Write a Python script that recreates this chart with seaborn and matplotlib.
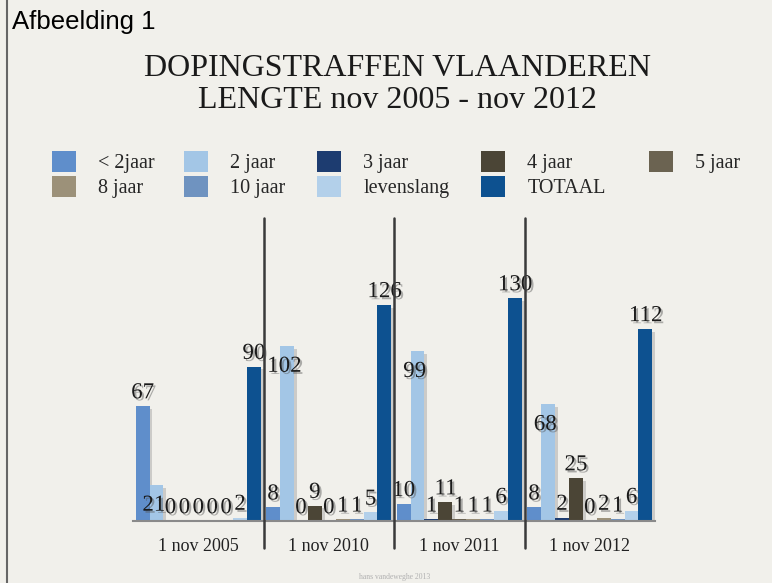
import numpy as np
import pandas as pd
import matplotlib
matplotlib.use("Agg")
import matplotlib.pyplot as plt
import matplotlib.patheffects as pe
from matplotlib.lines import Line2D
import seaborn as sns

# ---- data ----
dates = ["1 nov 2005", "1 nov 2010", "1 nov 2011", "1 nov 2012"]
durations = ["< 2jaar", "2 jaar", "3 jaar", "4 jaar", "5 jaar",
             "8 jaar", "10 jaar", "levenslang", "TOTAAL"]
v_lt2 = [67, 8, 10, 8]
v_2 = [21, 102, 99, 68]
v_3 = [0, 0, 1, 2]
v_4 = [0, 9, 11, 25]
v_5 = [0, 0, 1, 0]
v_8 = [0, 1, 1, 2]
v_10 = [0, 1, 1, 1]
v_lev = [2, 5, 6, 6]
v_tot = [90, 126, 130, 112]
series = [v_lt2, v_2, v_3, v_4, v_5, v_8, v_10, v_lev, v_tot]

colors = ["#5f8ecb", "#a3c6e6", "#1d3c70", "#4b4536", "#6b6351",
          "#9c9179", "#6f93c0", "#b3d0ea", "#0d5190"]
bg = "#f1f0eb"

rows = []
for dur, vals in zip(durations, series):
    for d, v in zip(dates, vals):
        rows.append({"datum": d, "duur": dur, "aantal": v})
df = pd.DataFrame(rows)

sns.set_style("white")
plt.rcParams["font.family"] = ["Liberation Serif", "DejaVu Serif"]

W, H = 772, 583
fig = plt.figure(figsize=(W / 100, H / 100), dpi=100, facecolor=bg)

def fx(px):
    return px / W

def fy(py):
    return 1 - py / H

ax_left, ax_right, ax_top, ax_bot = 133, 655, 218, 521
ax = fig.add_axes([fx(ax_left), fy(ax_bot), fx(ax_right - ax_left), (ax_bot - ax_top) / H])
ax.set_facecolor(bg)

shadow = [pe.SimplePatchShadow(offset=(2, -2), shadow_rgbFace="#888888", alpha=0.35), pe.Normal()]
sns.barplot(data=df, x="datum", y="aantal", hue="duur", hue_order=durations,
            order=dates, palette=colors, width=0.96, gap=0.0, ax=ax,
            saturation=1, legend=True)

for p in ax.patches:
    p.set_path_effects(shadow)
    p.set_edgecolor("none")

ax.set_xlim(-0.5, 3.5)
ax.set_ylim(0, (ax_bot - ax_top) / 1.715)
ax.set_xlabel("")
ax.set_ylabel("")
ax.set_yticks([])
ax.tick_params(axis="x", length=0, labelsize=13, pad=12, colors="#222222")
for s in ["left", "right", "top"]:
    ax.spines[s].set_visible(False)
ax.spines["bottom"].set_color("#8a8a8a")
ax.spines["bottom"].set_linewidth(1.5)

# value labels
txt_shadow = [pe.SimplePatchShadow(offset=(1.5, -1.5), shadow_rgbFace="#555555", alpha=0.45), pe.Normal()]
for dur, cont in zip(durations, ax.containers):
    for bar in cont:
        h = bar.get_height()
        xc = bar.get_x() + bar.get_width() / 2
        if dur == "2 jaar":
            ax.annotate(f"{int(round(h))}", xy=(xc, h), xytext=(-2, -7),
                        textcoords="offset points", ha="center", va="top",
                        fontsize=16.5, color="#1a1a1a", path_effects=txt_shadow,
                        annotation_clip=False)
        else:
            ax.annotate(f"{int(round(h))}", xy=(xc, h), xytext=(0, 2),
                        textcoords="offset points", ha="center", va="bottom",
                        fontsize=16.5, color="#1a1a1a", path_effects=txt_shadow,
                        annotation_clip=False)

# group dividers
trans = ax.get_xaxis_transform()
ext = (548 - ax_bot) / (ax_bot - ax_top)
for xd in [0.5, 1.5, 2.5]:
    ax.plot([xd, xd], [-ext, 1.0], transform=trans, color="#3a3a3a", lw=1.8,
            clip_on=False, zorder=5)

# legend (manual column placement)
handles, labels = ax.get_legend_handles_labels()
ax.get_legend().remove()
hmap = dict(zip(labels, handles))
col_x = [52, 184, 317, 481, 649]
columns = [[durations[0], durations[5]], [durations[1], durations[6]],
           [durations[2], durations[7]], [durations[3], durations[8]], [durations[4]]]
for cx, col in zip(col_x, columns):
    hs = [plt.Rectangle((0, 0), 1, 1, facecolor=hmap[l].get_facecolor(), edgecolor="none") for l in col]
    fig.legend(hs, col, loc="upper left", bbox_to_anchor=(fx(cx), fy(151)),
               frameon=False, fontsize=14.5, handlelength=1.2, handleheight=1.2,
               handletextpad=1.1, labelspacing=0.15, borderaxespad=0, borderpad=0)

# titles
fig.text(fx(397), fy(69), "DOPINGSTRAFFEN VLAANDEREN", ha="center", va="center",
         fontsize=23, color="#1a1a1a")
fig.text(fx(397), fy(101), "LENGTE nov 2005 - nov 2012", ha="center", va="center",
         fontsize=23, color="#1a1a1a")
fig.text(fx(12), fy(22), "Afbeelding 1", ha="left", va="center", fontsize=18.5,
         color="black", family=["Liberation Sans", "DejaVu Sans"])
fig.text(fx(395), fy(577), "hans vandeweghe 2013", ha="center", va="center",
         fontsize=5.5, color="#b0b0b0")

# left border
fig.add_artist(Line2D([fx(7), fx(7)], [0, 1], color="#666666", lw=1.5))

fig.savefig("out.png", dpi=100, facecolor=bg)
